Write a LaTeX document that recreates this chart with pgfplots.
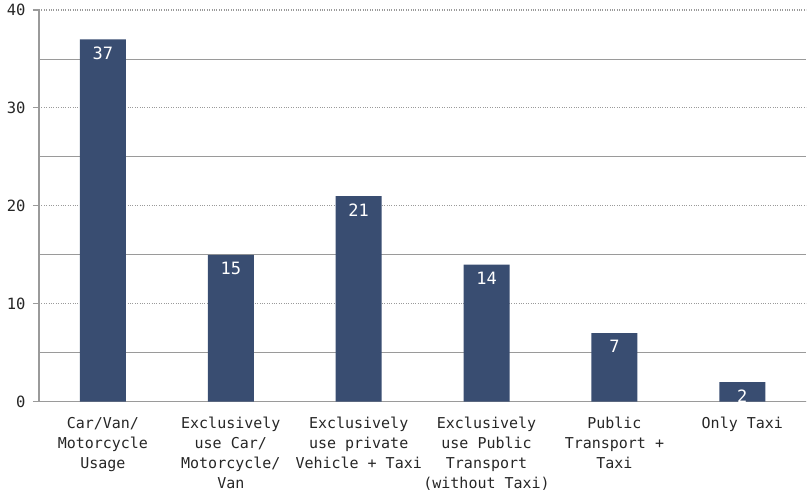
\documentclass[border=0pt]{standalone}
\usepackage{fontspec}
\setmainfont{DejaVu Sans Mono}
\usepackage{pgfplots}
\pgfplotsset{compat=1.18}
\definecolor{barc}{HTML}{394D71}
\definecolor{gridc}{HTML}{9A9A9A}
\begin{document}
\begin{tikzpicture}
\begin{axis}[
  scale only axis, width=768pt, height=392pt,
  xmin=-0.5, xmax=5.5, ymin=0, ymax=40,
  axis x line*=bottom, axis y line*=left,
  axis line style={gridc, line width=1.5pt},
  x axis line style={-}, y axis line style={-},
  ytick={0,10,20,30,40},
  minor ytick={5,15,25,35},
  ymajorgrids, yminorgrids,
  major grid style={gridc, dotted, line width=1.2pt},
  minor grid style={gridc, line width=0.8pt},
  ytick style={gridc, line width=1.2pt},
  tick align=outside, major tick length=6pt, minor tick length=0pt,
  xtick=data, xtick style={draw=none},
  xticklabels={{Car/Van/\\Motorcycle\\Usage},{Exclusively\\use Car/\\Motorcycle/\\Van},{Exclusively\\use private\\Vehicle + Taxi},{Exclusively\\use Public\\Transport\\(without Taxi)},{Public\\Transport +\\Taxi},{Only Taxi}},
  xticklabel style={align=center, anchor=north, yshift=-6pt, font=\fontsize{15}{20}\selectfont, text=black!85},
  yticklabel style={font=\fontsize{15.5}{20}\selectfont, text=black!85, xshift=-4pt},
  /pgf/number format/assume math mode=true,
  ybar, bar width=46pt,
  nodes near coords,
  every node near coord/.append style={anchor=north, text=white, font=\fontsize{17}{20}\selectfont, yshift=-4pt},
  axis on top=false,
  clip=false,
]
\addplot[fill=barc, draw=none] coordinates {(0,37) (1,15) (2,21) (3,14) (4,7) (5,2)};
\end{axis}
\path ([xshift=-39pt]current axis.south west) ++(0,0);
\useasboundingbox ([xshift=-39pt,yshift=10pt]current axis.north west) rectangle ([yshift=-91pt]current axis.south east);
\end{tikzpicture}
\end{document}
